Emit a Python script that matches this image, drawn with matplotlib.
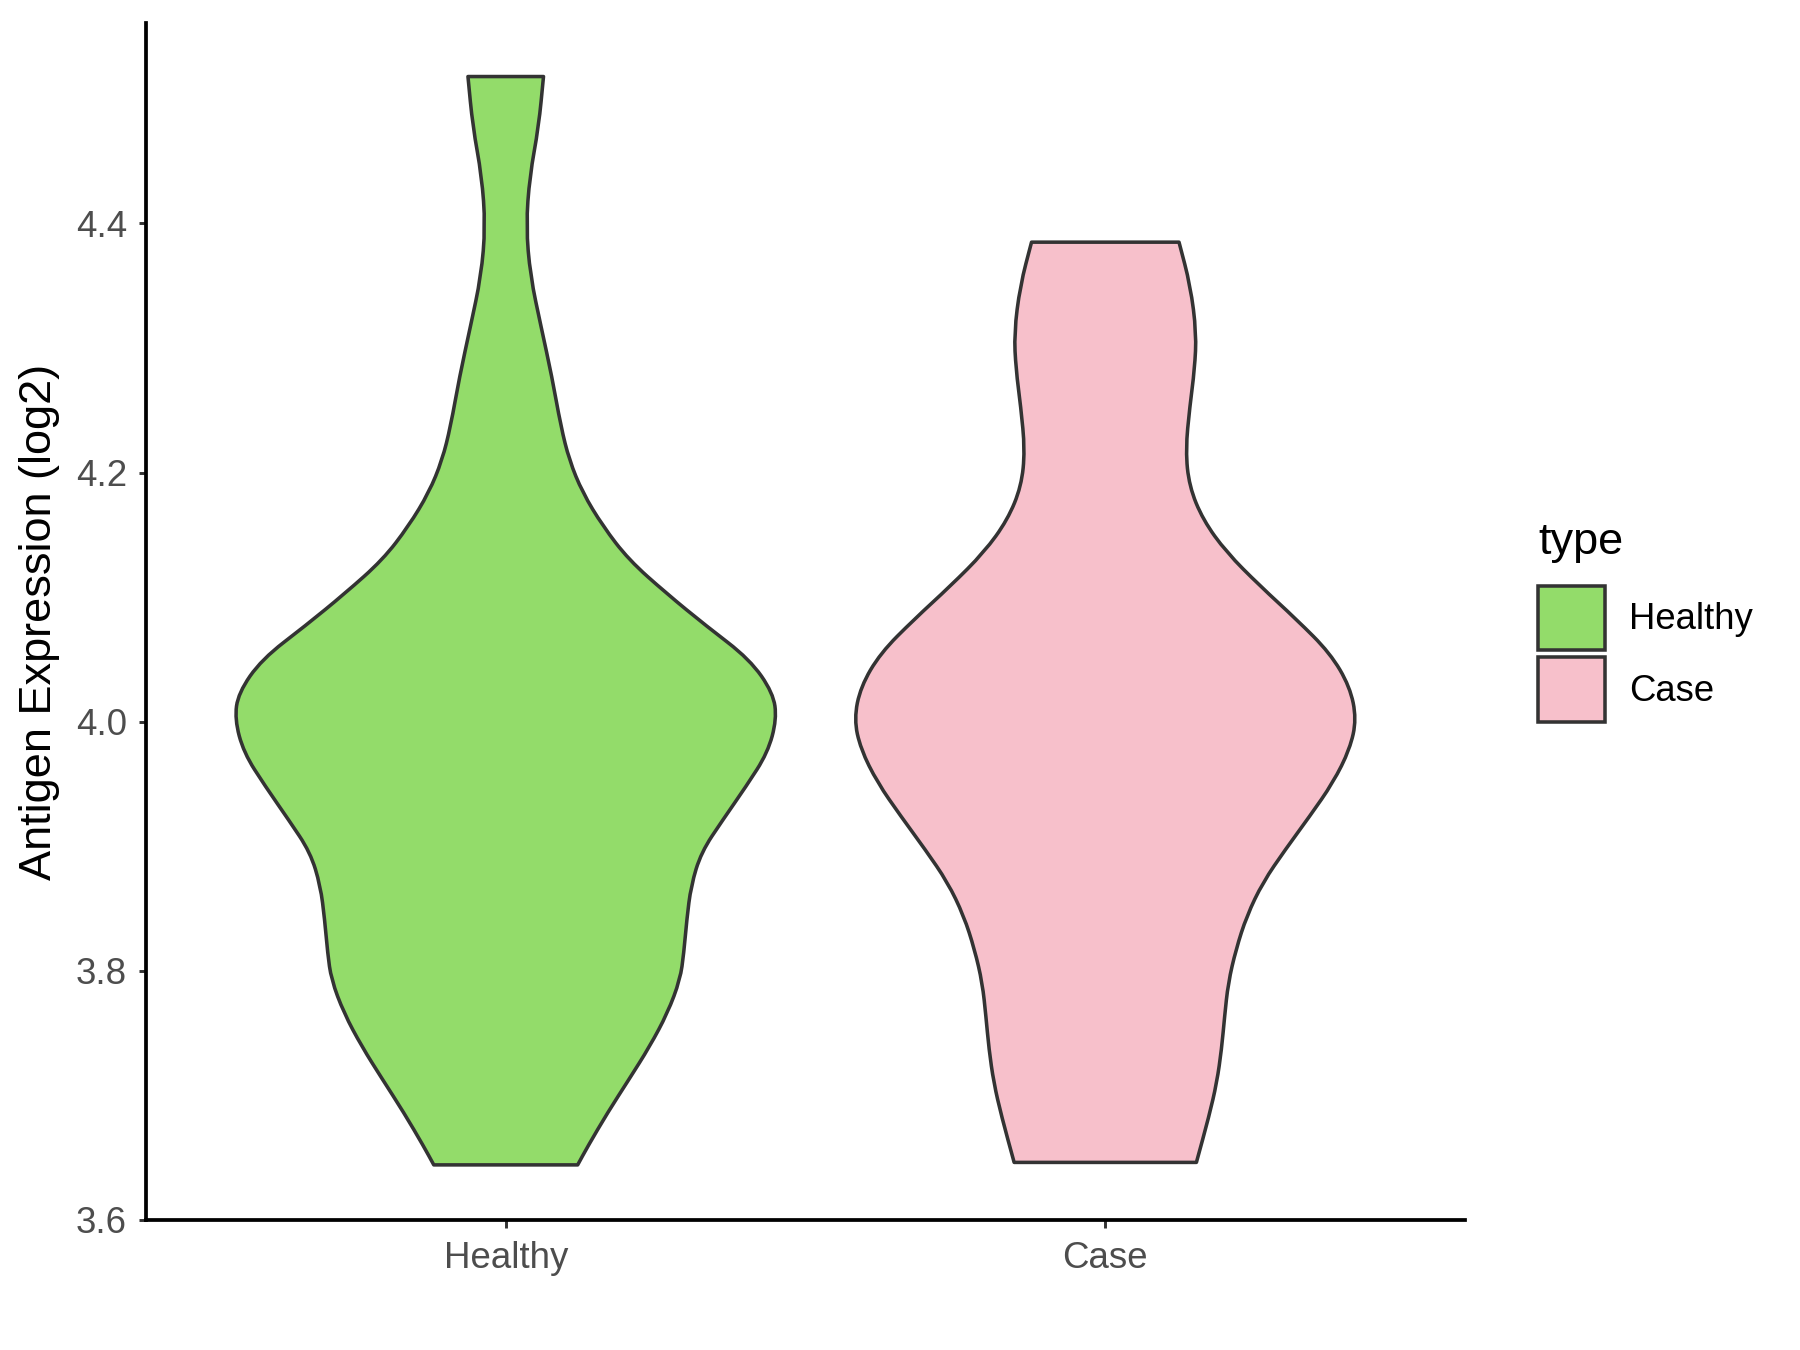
import numpy as np
import matplotlib
matplotlib.use("Agg")
import matplotlib.pyplot as plt
from matplotlib.patches import Patch, PathPatch
from matplotlib.path import Path

plt.rcParams['font.family'] = ['Liberation Sans', 'DejaVu Sans']

# violin outlines: expression value and half-width (x units)
groups = ["Healthy", "Case"]
colors = ["#93DC6A", "#F7C0CB"]

healthy_y = [4.518, 4.478, 4.438, 4.398, 4.358, 4.317, 4.277, 4.237, 4.210, 4.184,
             4.157, 4.130, 4.103, 4.077, 4.050, 4.023, 4.002, 3.975, 3.948, 3.921,
             3.895, 3.868, 3.841, 3.814, 3.793, 3.766, 3.739, 3.713, 3.686, 3.659, 3.644]
healthy_w = [0.063, 0.055, 0.040, 0.034, 0.041, 0.059, 0.077, 0.092, 0.106, 0.128,
             0.162, 0.205, 0.268, 0.334, 0.407, 0.446, 0.452, 0.437, 0.401, 0.362,
             0.326, 0.309, 0.302, 0.297, 0.291, 0.270, 0.240, 0.206, 0.170, 0.137, 0.120]

case_y = [4.385, 4.350, 4.312, 4.283, 4.253, 4.218, 4.189, 4.162, 4.136, 4.109,
          4.082, 4.055, 4.028, 4.002, 3.978, 3.951, 3.924, 3.897, 3.871, 3.844,
          3.817, 3.790, 3.763, 3.737, 3.710, 3.683, 3.646]
case_w = [0.123, 0.142, 0.152, 0.149, 0.141, 0.134, 0.140, 0.163, 0.202, 0.258,
          0.319, 0.375, 0.408, 0.419, 0.408, 0.380, 0.341, 0.300, 0.263, 0.236,
          0.218, 0.205, 0.199, 0.194, 0.186, 0.173, 0.152]

yticks = [3.6, 3.8, 4.0, 4.2, 4.4]


def smooth_side(pts):
    # quadratic bezier through the midpoints, so the outline is drawn round
    verts = [pts[0], (pts[0] + pts[1]) / 2]
    codes = [Path.LINETO, Path.LINETO]
    for i in range(1, len(pts) - 1):
        verts += [pts[i], (pts[i] + pts[i + 1]) / 2]
        codes += [Path.CURVE3, Path.CURVE3]
    verts.append(pts[-1])
    codes.append(Path.LINETO)
    return verts, codes


def violin_path(pos, ys, ws):
    ys = np.array(ys)
    ws = np.array(ws)
    right = np.column_stack([pos + ws, ys])
    left = np.column_stack([pos - ws, ys])[::-1]
    v1, c1 = smooth_side(right)
    v2, c2 = smooth_side(left)
    c1[0] = Path.MOVETO
    verts = v1 + v2 + [v1[0]]
    codes = c1 + c2 + [Path.CLOSEPOLY]
    return Path(verts, codes)


fig = plt.figure(figsize=(12, 9), dpi=150)
ax = fig.add_axes([146/1800, 1-1220.3/1350, (1465-146)/1800, (1220.3-23)/1350])

edge = "#333333"
profiles = [(healthy_y, healthy_w), (case_y, case_w)]
for i, (ys, ws) in enumerate(profiles):
    p = violin_path(i + 1, ys, ws)
    ax.add_patch(PathPatch(p, facecolor=colors[i], edgecolor=edge,
                           linewidth=1.7, joinstyle="round", zorder=2))

ax.set_xlim(0.4, 2.6)
ax.set_ylim(3.5995, 4.561)
ax.set_xticks([1, 2])
ax.set_xticklabels(groups)
ax.set_yticks(yticks)
ax.set_yticklabels(["%.1f" % v for v in yticks])

for s in ["top", "right"]:
    ax.spines[s].set_visible(False)
for s in ["left", "bottom"]:
    ax.spines[s].set_linewidth(1.8)
    ax.spines[s].set_color("black")

ax.tick_params(axis="both", length=3.6, width=1.4, color=edge,
               labelsize=17.6, labelcolor="#4D4D4D")
ax.tick_params(axis="x", pad=6.5)
ax.tick_params(axis="y", pad=5.5)

ax.set_ylabel("Antigen Expression (log2)", fontsize=21.7, color="black", labelpad=7.5)

handles = [Patch(facecolor=colors[i], edgecolor=edge, linewidth=1.7, label=groups[i])
           for i in range(2)]
leg = fig.legend(handles=handles, title="type", loc="upper left",
                 bbox_to_anchor=(1538/1800, 1-522/1350), frameon=False,
                 fontsize=17.5, title_fontsize=21.7, handlelength=1.85,
                 handleheight=2.33, labelspacing=0.2, handletextpad=0.65,
                 borderpad=0, borderaxespad=0)
leg._legend_box.align = "left"
leg._legend_box.sep = 11

plt.savefig("out.png", dpi=150)
